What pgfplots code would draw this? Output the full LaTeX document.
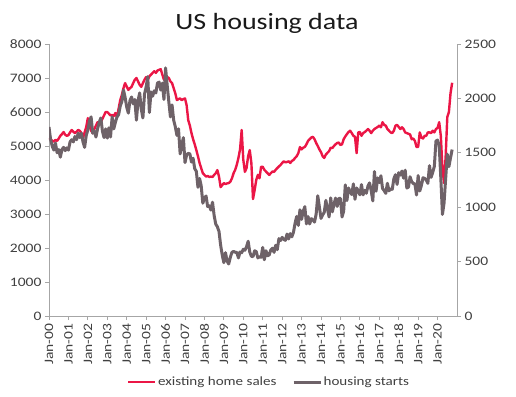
\documentclass[border=0pt]{standalone}
\usepackage{pgfplots}
\usepackage{pgfplotstable}
\pgfplotsset{compat=1.18}
\usepackage{fontspec}
\setmainfont[FakeStretch=1.2]{Carlito}
\definecolor{ehs}{RGB}{235,22,70}
\definecolor{hst}{RGB}{110,98,104}
\definecolor{axgray}{RGB}{166,166,166}
\definecolor{txt}{RGB}{64,64,64}

\pgfplotstableread{
m v
0 5230
1 5200
2 5150
3 5130
4 5180
5 5150
6 5220
7 5300
8 5350
9 5410
10 5330
11 5300
12 5320
13 5400
14 5470
15 5420
16 5380
17 5420
18 5470
19 5450
20 5380
21 5230
22 5400
23 5560
24 5820
25 5600
26 5450
27 5380
28 5500
29 5600
30 5700
31 5650
32 5700
33 5800
34 5900
35 6000
36 6000
37 5950
38 5900
39 5910
40 5880
41 5970
42 5850
43 6100
44 6350
45 6500
46 6700
47 6850
48 6750
49 6650
50 6700
51 6740
52 6850
53 6950
54 7000
55 6900
56 6800
57 6740
58 6850
59 6950
60 7030
61 6950
62 7050
63 7100
64 7150
65 7200
66 7150
67 7220
68 7240
69 7260
70 7100
71 6950
72 7000
73 7030
74 7000
75 6900
76 6850
77 6700
78 6550
79 6350
80 6380
81 6400
82 6350
83 6380
84 6400
85 6200
86 5760
87 5600
88 5380
89 5200
90 5050
91 4880
92 4700
93 4500
94 4350
95 4200
96 4150
97 4100
98 4120
99 4090
100 4100
101 4090
102 4150
103 4200
104 4290
105 4100
106 3790
107 3850
108 3910
109 3880
110 3900
111 3910
112 3950
113 4050
114 4200
115 4300
116 4450
117 4650
118 4900
119 5470
120 4600
121 4240
122 4350
123 4700
124 4880
125 4500
126 3440
127 3700
128 4000
129 4150
130 4050
131 4390
132 4390
133 4300
134 4250
135 4200
136 4150
137 4200
138 4250
139 4240
140 4300
141 4350
142 4400
143 4440
144 4500
145 4550
146 4520
147 4530
148 4550
149 4500
150 4560
151 4590
152 4650
153 4700
154 4790
155 4970
156 4900
157 4950
158 4970
159 5050
160 5150
161 5200
162 5250
163 5270
164 5200
165 5090
166 5000
167 4900
168 4820
169 4700
170 4650
171 4750
172 4800
173 4850
174 4950
175 4940
176 5000
177 5050
178 5090
179 5100
180 5030
181 5050
182 5200
183 5280
184 5350
185 5410
186 5450
187 5380
188 5300
189 5270
190 4790
191 5400
192 5410
193 5300
194 5380
195 5410
196 5450
197 5500
198 5450
199 5380
200 5450
201 5500
202 5530
203 5560
204 5600
205 5550
206 5700
207 5620
208 5600
209 5500
210 5450
211 5400
212 5380
213 5450
214 5600
215 5620
216 5560
217 5500
218 5550
219 5500
220 5400
221 5380
222 5360
223 5340
224 5200
225 5220
226 5150
227 4970
228 4970
229 5400
230 5250
231 5220
232 5300
233 5300
234 5400
235 5400
236 5380
237 5450
238 5400
239 5500
240 5530
241 5700
242 5300
243 4350
244 3910
245 4700
246 5850
247 6000
248 6550
249 6860
}\salesdata

\pgfplotstableread{
m v
0 1737
1 1620
2 1560
3 1525
4 1590
5 1500
6 1530
7 1460
8 1530
9 1550
10 1520
11 1545
12 1525
13 1600
14 1620
15 1600
16 1650
17 1620
18 1680
19 1640
20 1680
21 1600
22 1550
23 1660
24 1710
25 1790
26 1830
27 1680
28 1700
29 1645
30 1720
31 1780
32 1820
33 1700
34 1640
35 1720
36 1635
37 1730
38 1645
39 1830
40 1720
41 1780
42 1830
43 1850
44 1930
45 1970
46 2077
47 2010
48 1920
49 1865
50 1980
51 2013
52 1950
53 1990
54 1800
55 1980
56 2050
57 1900
58 1820
59 2040
60 2105
61 2200
62 1870
63 2060
64 2020
65 2070
66 2050
67 2141
68 2150
69 2077
70 2140
71 1990
72 2280
73 2120
74 1970
75 1830
76 1940
77 1800
78 1740
79 1660
80 1720
81 1490
82 1570
83 1640
84 1410
85 1480
86 1495
87 1490
88 1415
89 1450
90 1354
91 1330
92 1183
93 1264
94 1197
95 1037
96 1084
97 1103
98 1005
99 1013
100 973
101 1046
102 923
103 844
104 820
105 777
106 652
107 560
108 490
109 582
110 505
111 478
112 540
113 585
114 594
115 586
116 585
117 534
118 588
119 581
120 614
121 604
122 636
123 687
124 588
125 549
126 546
127 599
128 592
129 534
130 545
131 539
132 630
133 517
134 600
135 554
136 561
137 608
138 623
139 585
140 650
141 610
142 711
143 694
144 723
145 704
146 695
147 753
148 708
149 757
150 728
151 770
152 854
153 915
154 833
155 976
156 888
157 962
158 1005
159 847
160 914
161 846
162 895
163 883
164 863
165 936
166 1105
167 1003
168 897
169 928
170 953
171 1063
172 984
173 910
174 1086
175 957
176 1024
177 1084
178 1007
179 1081
180 1080
181 910
182 964
183 1205
184 1061
185 1177
186 1143
187 1116
188 1214
189 1073
190 1177
191 1150
192 1114
193 1208
194 1113
195 1155
196 1128
197 1195
198 1223
199 1152
200 1058
201 1328
202 1147
203 1269
204 1226
205 1289
206 1172
207 1153
208 1127
209 1220
210 1150
211 1168
212 1164
213 1262
214 1299
215 1209
216 1317
217 1295
218 1332
219 1267
220 1340
221 1177
222 1184
223 1280
224 1236
225 1217
226 1215
227 1112
228 1291
229 1149
230 1199
231 1270
232 1265
233 1250
234 1219
235 1382
236 1274
237 1320
238 1375
239 1608
240 1617
241 1567
242 1269
243 934
244 1038
245 1265
246 1487
247 1373
248 1454
249 1530
}\startsdata

\pgfplotsset{
  commonaxis/.style={
    at={(49bp,81bp)}, anchor=south west,
    scale only axis, width=408bp, height=272bp,
    xmin=0, xmax=252,
    axis line style={axgray, line width=0.8bp},
    tick style={axgray, line width=0.8bp},
    tick align=outside, major tick length=4bp,
    /pgf/number format/assume math mode=true,
    /pgf/number format/set thousands separator={},
    scaled y ticks=false,
    yticklabel style={txt, font=\fontsize{13}{13}\selectfont},
    xticklabel style={txt, font=\fontsize{13}{13}\selectfont},
  }
}

\begin{document}
\begin{tikzpicture}
\useasboundingbox (0,0) rectangle (516bp,397bp);
\node[font=\fontsize{23.4}{24}\selectfont, text=black!90] at (267bp,374bp) {US housing data};
\begin{axis}[
  commonaxis,
  axis x line*=bottom, axis y line*=left,
  ymin=0, ymax=8000,
  ytick={0,1000,...,8000},
  xtick={0,12,...,240},
  xticklabels={Jan-00,Jan-01,Jan-02,Jan-03,Jan-04,Jan-05,Jan-06,Jan-07,Jan-08,Jan-09,Jan-10,Jan-11,Jan-12,Jan-13,Jan-14,Jan-15,Jan-16,Jan-17,Jan-18,Jan-19,Jan-20},
  xticklabel style={rotate=90, anchor=east},
]
\addplot[ehs, line width=2.4bp, line join=round] table[x=m, y=v] {\salesdata};
\end{axis}
\begin{axis}[
  commonaxis,
  axis x line=none, axis y line*=right,
  ymin=0, ymax=2500,
  ytick={0,500,...,2500},
  legend style={at={(0.539,-0.243)}, anchor=center, draw=none, fill=none,
    legend columns=2, font=\fontsize{12.6}{13}\selectfont, text=txt,
    /tikz/every even column/.append style={column sep=14bp},
    nodes={inner xsep=1.5bp}},
  legend cell align=left,
  legend image code/.code={\draw[#1] (0bp,0bp) -- (27bp,0bp);},
]
\addlegendimage{ehs, line width=2.4bp}
\addlegendentry{existing home sales}
\addplot[hst, line width=3bp, line join=round] table[x=m, y=v] {\startsdata};
\addlegendentry{housing starts}
\end{axis}
\end{tikzpicture}
\end{document}
